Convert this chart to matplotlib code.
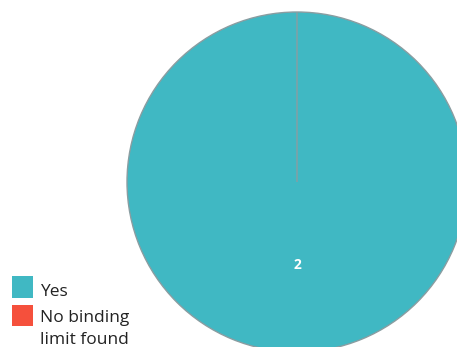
import matplotlib
matplotlib.use('Agg')
import matplotlib.pyplot as plt
from matplotlib.patches import Rectangle
from matplotlib.legend_handler import HandlerPatch

categories = ['Yes', 'No binding\nlimit found']
counts = [2, 0]
colors = ['#40b8c3', '#f5503c']

W, H = 457, 347
plt.rcParams['font.family'] = ['Open Sans', 'DejaVu Sans']


class FirstLineHandler(HandlerPatch):
    # square swatch, optionally raised so it sits beside the first line of a wrapped label
    def __init__(self, shift=0.0, **kw):
        super().__init__(**kw)
        self.shift = shift

    def create_artists(self, legend, orig_handle, xdescent, ydescent,
                       width, height, fontsize, trans):
        p = Rectangle((-xdescent, -ydescent + self.shift * fontsize), width, height)
        self.update_prop(p, orig_handle, legend)
        p.set_edgecolor('none')
        p.set_transform(trans)
        return [p]


fig = plt.figure(figsize=(W / 100, H / 100), dpi=100)
ax = fig.add_axes([0, 0, 1, 1])

total = sum(counts)
wedges, _, autotexts = ax.pie(
    counts, colors=colors, startangle=90, counterclock=False,
    center=(297, 165), radius=170, frame=True,
    autopct=lambda p: f'{p * total / 100:.0f}' if p > 0 else '',
    pctdistance=0.49,
    wedgeprops=dict(edgecolor='#8a9da1', linewidth=1.0),
    textprops=dict(color='white', fontsize=10, fontweight='bold'))
ax.set_xlim(0, W)
ax.set_ylim(0, H)
ax.set_aspect('equal')
ax.axis('off')

leg = fig.legend(wedges, categories, loc='upper left',
                 bbox_to_anchor=(12 / W, 1 - 279.5 / H),
                 frameon=False, borderpad=0, borderaxespad=0,
                 fontsize=12.5, handlelength=1.21, handleheight=1.53,
                 handletextpad=0.4, labelspacing=0.5,
                 handler_map={wedges[0]: FirstLineHandler(shift=0.2),
                              wedges[1]: FirstLineHandler(shift=0.8)})
for t in leg.get_texts():
    t.set_color('#222222')
    t.set_linespacing(1.55)

fig.savefig('out.png', dpi=100)
